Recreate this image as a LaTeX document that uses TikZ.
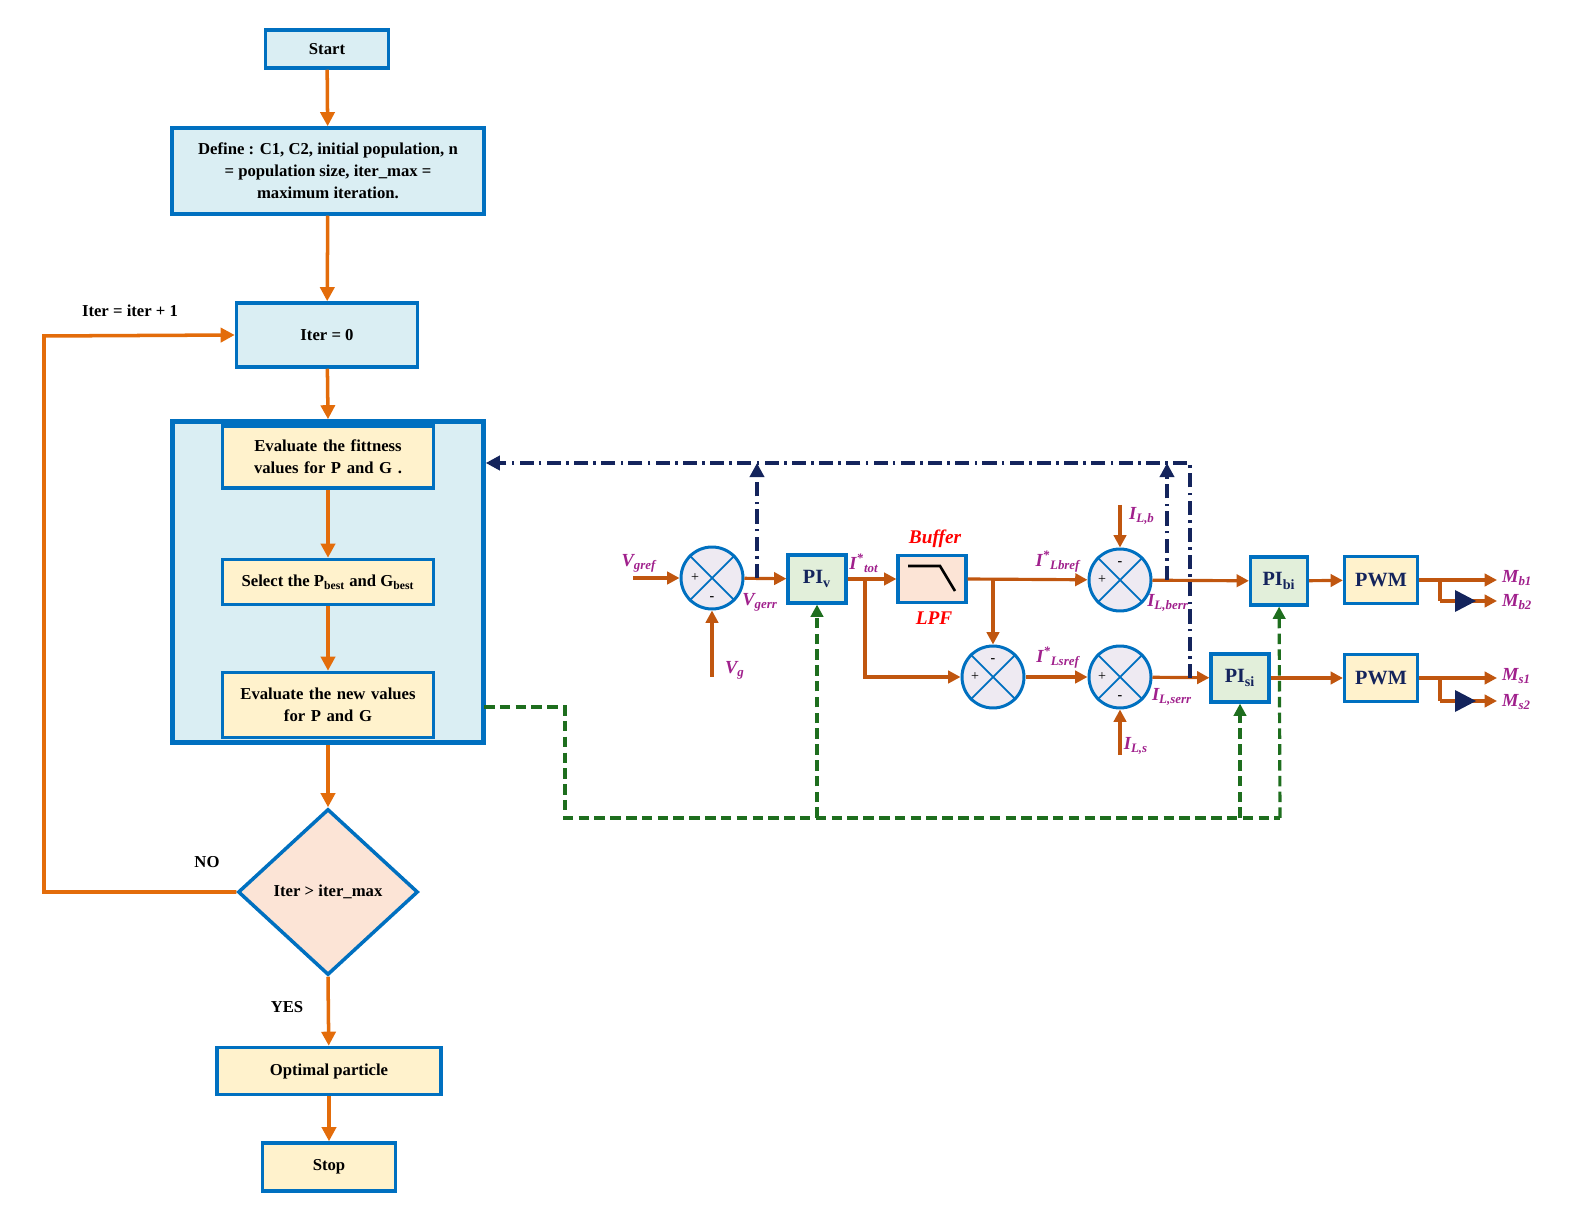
\documentclass[tikz,border=0pt]{standalone}
\usepackage{fontspec}
\setmainfont{Liberation Serif}
\usetikzlibrary{shapes.geometric,arrows.meta}
\definecolor{fo}{HTML}{E36C0A}
\definecolor{br}{HTML}{C0560F}
\definecolor{bb}{HTML}{0070C0}
\definecolor{lc}{HTML}{DAEEF3}
\definecolor{ly}{HTML}{FFF2CC}
\definecolor{lp}{HTML}{FCE4D6}
\definecolor{lg}{HTML}{E2EFDA}
\definecolor{mg}{HTML}{A0208C}
\definecolor{nv}{HTML}{14245C}
\definecolor{gr}{HTML}{1E6E1E}
\definecolor{sumf}{HTML}{EEEAF2}
\begin{document}
\begin{tikzpicture}[x=0.02cm,y=-0.02cm,
  fbox/.style={draw=bb,line width=2pt,align=center,font=\fontsize{9.5}{12.5}\selectfont\bfseries,inner sep=1pt},
  fa/.style={draw=fo,line width=2pt,-{Triangle[length=8pt,width=8pt]}},
  ba/.style={draw=br,line width=1.8pt,-{Triangle[length=7pt,width=7pt]}},
  bl/.style={draw=br,line width=1.8pt},
  blk/.style={draw=bb,line width=1.8pt,font=\fontsize{11.5}{13}\selectfont\bfseries,text=nv,inner sep=0pt},
  sm/.style={circle,draw=bb,fill=sumf,line width=1.7pt,minimum size=1.24cm,inner sep=0pt},
  lab/.style={text=mg,font=\fontsize{10.5}{12}\selectfont\bfseries\itshape,inner sep=1pt},
  sg/.style={font=\fontsize{8}{9}\selectfont,inner sep=0pt},
  nd/.style={draw=nv,line width=2pt,dash pattern=on 8pt off 3pt on 1.5pt off 3pt},
  gd/.style={draw=gr,line width=1.8pt,dash pattern=on 6pt off 3pt}]
\useasboundingbox (0,0) rectangle (1582,1222);
% flowchart
\node[fbox,fill=lc,minimum width=2.46cm,minimum height=0.76cm] (start) at (327,49) {Start};
\node[fbox,fill=lc,minimum width=6.24cm,minimum height=1.72cm] (def) at (328,171) {Define : C1, C2, initial population, n\\ = population size, iter\_max =\\ maximum iteration.};
\node[fbox,fill=lc,minimum width=3.62cm,minimum height=1.28cm] (it0) at (327,335) {Iter = 0};
\node[draw=bb,fill=lc,line width=2.6pt,minimum width=6.22cm,minimum height=6.42cm,inner sep=0pt] (grp) at (328,582) {};
\node[fbox,fill=ly,minimum width=4.22cm,minimum height=1.24cm,text width=4cm] (ev) at (328,457) {Evaluate the fittness values for P and G .};
\node[fbox,fill=ly,minimum width=4.22cm,minimum height=0.9cm] (sel) at (328,582) {Select the P\textsubscript{best} and G\textsubscript{best}};
\node[fbox,fill=ly,minimum width=4.22cm,minimum height=1.3cm,text width=4cm] (en) at (328,705) {Evaluate the new values\\ for P and G};
\node[fbox,fill=lp,diamond,minimum width=3.6cm,minimum height=3.32cm,inner sep=0pt] (dm) at (328,892) {Iter \textgreater{} iter\_max};
\node[fbox,fill=ly,minimum width=4.48cm,minimum height=0.94cm] (opt) at (329,1071) {Optimal particle};
\node[fbox,fill=ly,minimum width=2.66cm,minimum height=0.96cm] (stop) at (329,1167) {Stop};
\draw[fa] (start) -- (def);
\draw[fa] (def) -- (it0);
\draw[fa] (it0) -- (grp.north);
\draw[fa] (ev) -- (sel);
\draw[fa] (sel) -- (en);
\draw[fa] (grp.south) -- (dm.north);
\draw[fa] (dm.south) -- (opt);
\draw[fa] (opt) -- (stop);
\coordinate (l1) at (44,892); \coordinate (l2) at (44,336);
\draw[fa] (dm.west) -- (l1) -- (l2) -- (it0.west);
\node[font=\fontsize{9.5}{11}\selectfont\bfseries] (lit) at (130,311) {Iter = iter + 1};
\node[font=\fontsize{9.5}{11}\selectfont\bfseries] (lno) at (207,862) {NO};
\node[font=\fontsize{9.5}{11}\selectfont\bfseries] (lyes) at (287,1007) {YES};
% block diagram
\node[sm] (s1) at (712,578) {};
\node[sm] (s2) at (1120,580) {};
\node[sm] (s3) at (993,677) {};
\node[sm] (s4) at (1120,677) {};
\foreach \s in {s1,s2,s3,s4}{\draw[bb,line width=1pt] (\s.45)--(\s.225) (\s.135)--(\s.315);}
\node[sg] at ([xshift=-0.34cm]s1.center) {+}; \node[sg] at ([yshift=-0.42cm]s1.center) {\bfseries -};
\node[sg] at ([xshift=-0.36cm]s2.center) {+}; \node[sg] at ([yshift=0.32cm]s2.center) {\bfseries -};
\node[sg] at ([xshift=-0.36cm]s3.center) {+}; \node[sg] at ([yshift=0.32cm]s3.center) {\bfseries -};
\node[sg] at ([xshift=-0.36cm]s4.center) {+}; \node[sg] at ([yshift=-0.42cm]s4.center) {\bfseries -};
\node[blk,fill=lg,minimum width=1.16cm,minimum height=0.96cm] (piv) at (817,579) {PI\textsubscript{v}};
\node[blk,fill=lp,minimum width=1.36cm,minimum height=0.94cm] (lpf) at (932,579) {};
\draw[black,line width=1.5pt] (908,566) -- (940,566) -- (955,591);
\node[blk,fill=lg,minimum width=1.14cm,minimum height=0.96cm] (pib) at (1279,581) {PI\textsubscript{bi}};
\node[blk,fill=lg,minimum width=1.16cm,minimum height=0.96cm] (pis) at (1240,678) {PI\textsubscript{si}};
\node[blk,fill=ly,minimum width=1.46cm,minimum height=0.94cm] (pw1) at (1381,580) {PWM};
\node[blk,fill=ly,minimum width=1.46cm,minimum height=0.94cm] (pw2) at (1381,678) {PWM};
\coordinate (vin) at (633,578);
\coordinate (vgin) at (712,677);
\coordinate (ilb) at (1120,505);
\coordinate (ils) at (1120,755);
\draw[ba] (vin) -- (s1);
\draw[ba] (vgin) -- (s1);
\draw[ba] (s1) -- (piv);
\draw[ba] (piv) -- (lpf);
\coordinate (b1) at (865,579); \coordinate (b1d) at (865,677);
\draw[ba] (b1) -- (b1d) -- (s3);
\draw[ba] (lpf.east) -- (s2);
\coordinate (b2) at (993,579);
\draw[ba] (b2) -- (s3);
\draw[ba] (ilb) -- (s2);
\draw[ba] (ils) -- (s4);
\draw[ba] (s3) -- (s4);
\draw[ba] (s2) -- (pib);
\draw[ba] (s4) -- (pis);
\draw[ba] (pib) -- (pw1);
\draw[ba] (pis) -- (pw2);
\coordinate (mb1) at (1497,580); \coordinate (mb2) at (1497,601);
\coordinate (ms1) at (1497,678); \coordinate (ms2) at (1497,701);
\coordinate (j1) at (1440,580); \coordinate (j1d) at (1440,601);
\coordinate (j2) at (1440,678); \coordinate (j2d) at (1440,701);
\draw[ba] (pw1) -- (mb1);
\draw[ba] (pw2) -- (ms1);
\draw[bl] (j1) -- (j1d); \draw[ba] (j1d) -- (mb2);
\draw[bl] (j2) -- (j2d); \draw[ba] (j2d) -- (ms2);
\fill[nv] (1455,590) -- (1476,601) -- (1455,612) -- cycle;
\fill[nv] (1455,690) -- (1476,701) -- (1455,712) -- cycle;
% labels
\node[lab] at (639,563) {V\textsubscript{gref}};
\node[lab] at (735,670) {V\textsubscript{g}};
\node[lab] at (760,602) {V\textsubscript{gerr}};
\node[lab] at (864,563) {I\textsuperscript{*}\textsubscript{tot}};
\node[text=red,font=\fontsize{11}{12}\selectfont\bfseries\itshape] at (935,539) {Buffer};
\node[text=red,font=\fontsize{11}{12}\selectfont\bfseries\itshape] at (934,618) {LPF};
\node[lab] at (1058,562) {I\textsuperscript{*}\textsubscript{Lbref}};
\node[lab] at (1058,658) {I\textsuperscript{*}\textsubscript{Lsref}};
\node[lab] at (1142,516) {I\textsubscript{L,b}};
\node[lab] at (1136,746) {I\textsubscript{L,s}};
\node[lab] at (1168,603) {I\textsubscript{L,berr}};
\node[lab] at (1172,697) {I\textsubscript{L,serr}};
\node[lab,anchor=west] at (1500,578) {M\textsubscript{b1}};
\node[lab,anchor=west] at (1500,602) {M\textsubscript{b2}};
\node[lab,anchor=west] at (1500,676) {M\textsubscript{s1}};
\node[lab,anchor=west] at (1500,702) {M\textsubscript{s2}};
% navy dash-dot feedback
\coordinate (n1) at (757,578); \coordinate (n1u) at (757,463);
\coordinate (n2) at (1167,580); \coordinate (n2u) at (1167,463);
\coordinate (n3) at (1190,678); \coordinate (n3u) at (1190,463);
\draw[nd,-{Triangle[length=8pt,width=8pt]}] (n3) -- (n3u) -- (grp.east |- n3u);
\draw[nd,-{Triangle[length=8pt,width=8pt]}] (n1) -- (n1u);
\draw[nd,-{Triangle[length=8pt,width=8pt]}] (n2) -- (n2u);
% green dashed
\coordinate (g0) at (484,707); \coordinate (g1) at (565,707); \coordinate (g2) at (565,818);
\coordinate (g3) at (1280,818); \coordinate (gv) at (817,818); \coordinate (gs) at (1240,818);
\draw[gd] (g0) -- (g1) -- (g2) -- (g3);
\draw[gd,-{Triangle[length=7pt,width=7pt]}] (gv) -- (piv);
\draw[gd,-{Triangle[length=7pt,width=7pt]}] (gs) -- (pis);
\draw[gd,-{Triangle[length=7pt,width=7pt]}] (g3) -- (pib);
\end{tikzpicture}
\end{document}
